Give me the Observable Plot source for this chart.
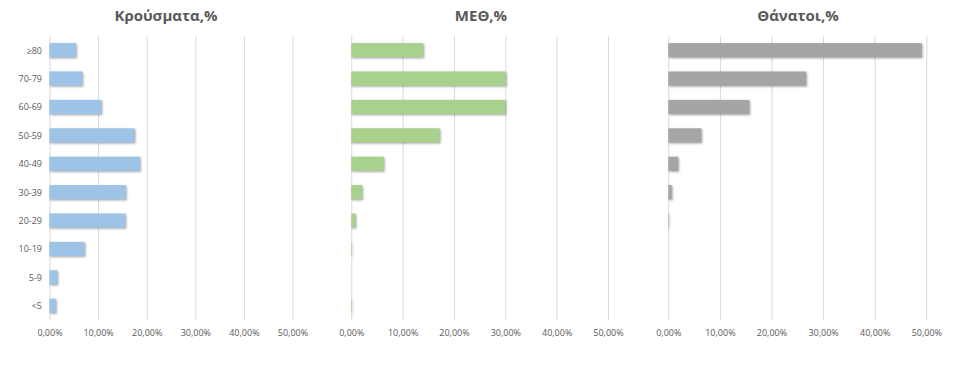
<!DOCTYPE html>
<html>
<head>
<meta charset="utf-8">
<script src="https://cdn.jsdelivr.net/npm/d3@7"></script>
<script src="https://cdn.jsdelivr.net/npm/@observablehq/plot@0.6"></script>
<style>
  body { margin: 0; background: #fff; font-family: "Open Sans", sans-serif; }
  #wrap { position: relative; width: 959px; height: 386px; overflow: hidden; }
  .panel { position: absolute; top: 0; }
  .title { position: absolute; top: 5px; font: bold 15px "Open Sans", sans-serif; color: #595959; text-align: center; white-space: nowrap; transform: translateX(-50%); }
  svg g[aria-label="bar"] rect { filter: drop-shadow(1.5px 1.5px 1px rgba(0,0,0,0.35)); }
</style>
</head>
<body>
<div id="wrap"></div>
<script>
const ageGroups = ["≥80", "70-79", "60-69", "50-59", "40-49", "30-39", "20-29", "10-19", "5-9", "<5"];
const casesPct  = [5.45, 6.75, 10.65, 17.5, 18.6, 15.7, 15.6, 7.2, 1.6, 1.3];
const icuPct    = [14.0, 30.1, 30.0, 17.2, 6.3, 2.1, 0.8, 0.1, 0.0, 0.1];
const deathsPct = [49.1, 26.7, 15.7, 6.4, 1.9, 0.65, 0.1, 0.0, 0.0, 0.0];
const xTicks = [0, 10, 20, 30, 40, 50];
const titles = ["Κρούσματα,%", "ΜΕΘ,%", "Θάνατοι,%"];
const colors = ["#9dc3e6", "#a9d18e", "#a5a5a5"];

const panels = [
  {values: casesPct,  left: 0,   width: 320, ml: 49.5, mr: 27.5, showY: true,  titleX: 166},
  {values: icuPct,    left: 320, width: 320, ml: 31.3, mr: 32,   showY: false, titleX: 161},
  {values: deathsPct, left: 640, width: 319, ml: 28.3, mr: 32.7, showY: false, titleX: 158}
];

const wrap = document.getElementById("wrap");
panels.forEach((p, i) => {
  const data = ageGroups.map((g, j) => ({g, v: p.values[j]}));
  const chart = Plot.plot({
    width: p.width,
    height: 386,
    marginTop: 36,
    marginBottom: 66,
    marginLeft: p.ml,
    marginRight: p.mr,
    style: {fontSize: "9px", fontFamily: "Open Sans, sans-serif", color: "#595959", background: "transparent"},
    x: {domain: [0, 50], ticks: xTicks, tickSize: 0, tickPadding: 9, label: null,
        tickFormat: d => d.toFixed(2).replace(".", ",") + "%"},
    y: {domain: ageGroups, paddingInner: 0.5, paddingOuter: 0.25, round: false,
        axis: p.showY ? "left" : null, tickSize: 0, tickPadding: 8, label: null},
    marks: [
      Plot.ruleX(xTicks, {stroke: "#d9d9d9", strokeWidth: 1}),
      Plot.barX(data, {x1: 0, x2: "v", y: "g", fill: colors[i]})
    ]
  });
  const div = document.createElement("div");
  div.className = "panel";
  div.style.left = p.left + "px";
  div.style.width = p.width + "px";
  div.appendChild(chart);
  const t = document.createElement("div");
  t.className = "title";
  t.style.left = p.titleX + "px";
  t.textContent = titles[i];
  div.appendChild(t);
  wrap.appendChild(div);
});
</script>
</body>
</html>
